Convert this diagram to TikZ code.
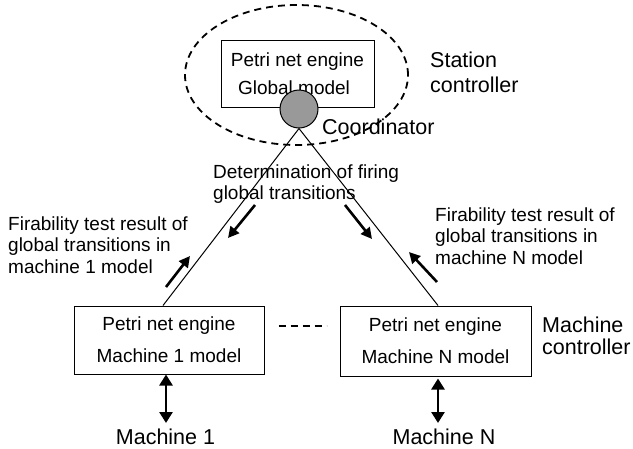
\documentclass[tikz,border=0pt]{standalone}
\usepackage{fontspec}
\setmainfont{Liberation Sans}
\usetikzlibrary{shapes.geometric,arrows.meta}
\begin{document}
\begin{tikzpicture}[x=1pt,y=1pt,
  every node/.style={font=\fontsize{19}{21.5}\selectfont},
  bigtext/.style={font=\fontsize{21.5}{24.5}\selectfont},
  box/.style={draw,line width=1pt,rectangle,inner sep=0pt,align=center},
  lbl/.style={inner sep=0pt,anchor=west,align=left},
  thin/.style={line width=1pt},
  bigarrow/.style={line width=2.6pt,-{Triangle[length=11pt,width=11pt]}},
  dblarrow/.style={line width=2.6pt,{Triangle[length=11pt,width=13pt]}-{Triangle[length=11pt,width=13pt]}},
  dashline/.style={line width=1.8pt,dash pattern=on 7pt off 5pt}]
\useasboundingbox (0,0) rectangle (633,-448);
% station controller
\node[draw,dashline,ellipse,minimum width=223pt,minimum height=140pt,inner sep=0pt] (station) at (296.5,-75) {};
\node[box,minimum width=153pt,minimum height=67pt,font=\fontsize{19}{28}\selectfont] (glob) at (297.5,-73.5) {Petri net engine\\\hspace*{-7pt}Global model};
\node[draw,thin,circle,fill=black!40,minimum size=38pt,inner sep=0pt] (coord) at (299,-109) {};
\node[lbl,bigtext] (stlbl) at (430,-72.5) {Station\\controller};
\node[lbl,bigtext] (colbl) at (322,-127) {Coordinator};
% machine boxes
\node[box,minimum width=190pt,minimum height=68pt,font=\fontsize{19}{32}\selectfont] (m1) at (169,-340) {Petri net engine\\Machine 1 model};
\node[box,minimum width=191pt,minimum height=70pt,font=\fontsize{19}{32}\selectfont] (mN) at (435.5,-341) {Petri net engine\\Machine N model};
\node[lbl,font=\fontsize{21.5}{22.5}\selectfont] (mclbl) at (542,-336) {Machine\\controller};
\node[inner sep=0pt,bigtext] (m1lbl) at (165.5,-437) {Machine 1};
\node[inner sep=0pt,bigtext] (mNlbl) at (444,-437) {Machine N};
\coordinate (m1end) at (166,-423);
\coordinate (mNend) at (438,-423);
% connectors
\draw[thin] (coord.south) -- ([xshift=-6pt]m1.north);
\draw[thin] (coord.south) -- ([xshift=2.5pt]mN.north);
\draw[dashline] ([xshift=14pt,yshift=14pt]m1.east) -- ([xshift=-13pt,yshift=15pt]mN.west);
\draw[dblarrow] ([xshift=-3pt]m1.south) -- (m1end);
\draw[dblarrow,shorten <=2pt] ([xshift=2.5pt]mN.south) -- (mNend);
% labels
\node[lbl] (det) at (213,-184) {Determination of firing\\global transitions};
\node[lbl] (f1) at (8,-245) {Firability test result of\\global transitions in\\machine 1 model};
\node[lbl] (fN) at (435,-236) {Firability test result of\\global transitions in\\machine N model};
% small arrows
\coordinate (a1s) at (255,-205); \coordinate (a1e) at (228,-238);
\coordinate (a2s) at (166,-287); \coordinate (a2e) at (190,-256);
\coordinate (a3s) at (345,-205); \coordinate (a3e) at (372,-239);
\coordinate (a4s) at (437,-282); \coordinate (a4e) at (409,-252);
\draw[bigarrow] (a1s) -- (a1e);
\draw[bigarrow] (a2s) -- (a2e);
\draw[bigarrow] (a3s) -- (a3e);
\draw[bigarrow] (a4s) -- (a4e);
\end{tikzpicture}
\end{document}
